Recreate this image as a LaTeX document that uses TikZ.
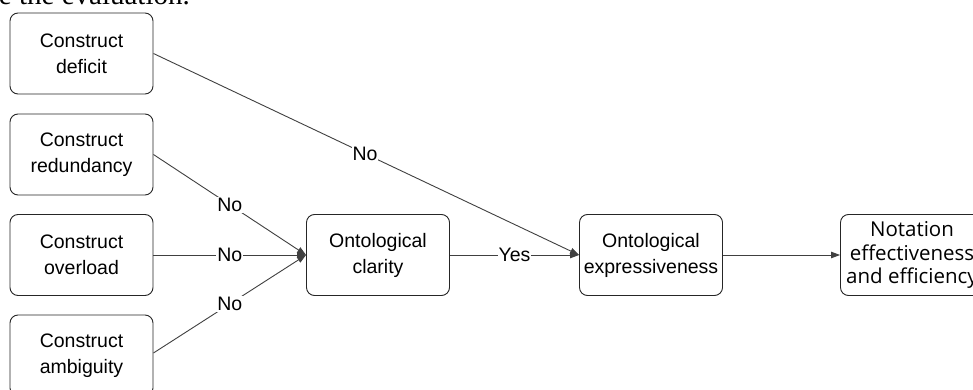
\documentclass[tikz,border=0pt]{standalone}
\usepackage{fontspec}
\setmainfont{Liberation Sans}
\newfontfamily\serifpart{Liberation Serif}
\newfontfamily\notefont{Open Sans}
\usetikzlibrary{arrows.meta}
\definecolor{linec}{HTML}{404040}
\tikzset{
  box/.style={draw=black!85, line width=0.9pt, rounded corners=8pt, minimum width=143pt, minimum height=81pt, align=center, font=\fontsize{19.5}{26}\selectfont, inner sep=2pt},
  conn/.style={draw=linec, line width=0.9pt, -{Triangle[length=9pt,width=6.5pt]}},
  lbl/.style={fill=white, inner sep=1pt, font=\fontsize{19.5}{22}\selectfont}
}
\begin{document}
\begin{tikzpicture}[x=1pt,y=-1pt]
\clip (0,0) rectangle (973,390);
\fill[white] (0,0) rectangle (973,390);
\node[anchor=base east, font=\serifpart\fontsize{29}{30}\selectfont, inner sep=0pt] (top) at (190,5) {e the evaluation.};
\node[box] (def) at (81.5,53.5) {Construct\\deficit};
\node[box] (red) at (81.5,154.5) {Construct\\redundancy};
\node[box] (ovl) at (81.5,255) {Construct\\overload};
\node[box] (amb) at (81.5,355.5) {Construct\\ambiguity};
\node[box] (cla) at (378,255) {Ontological\\clarity};
\node[box] (exp) at (651,255) {Ontological\\expressiveness};
\node[box, font=\notefont\fontsize{20.5}{23.5}\selectfont] (not) at (912,255) {Notation\\effectiveness\\and efficiency};
\draw[conn] (def.east) -- node[lbl, pos=0.497] {No} (exp.west);
\draw[conn] (red.east) -- node[lbl] {No} (cla.west);
\draw[conn] (ovl.east) -- node[lbl] {No} (cla.west);
\draw[conn] (amb.east |- 0,353) coordinate (ambout) -- node[lbl] {No} (cla.west);
\draw[conn] (cla.east) -- node[lbl] {Yes} (exp.west);
\draw[conn] (exp.east) -- (not.west);
\end{tikzpicture}
\end{document}
